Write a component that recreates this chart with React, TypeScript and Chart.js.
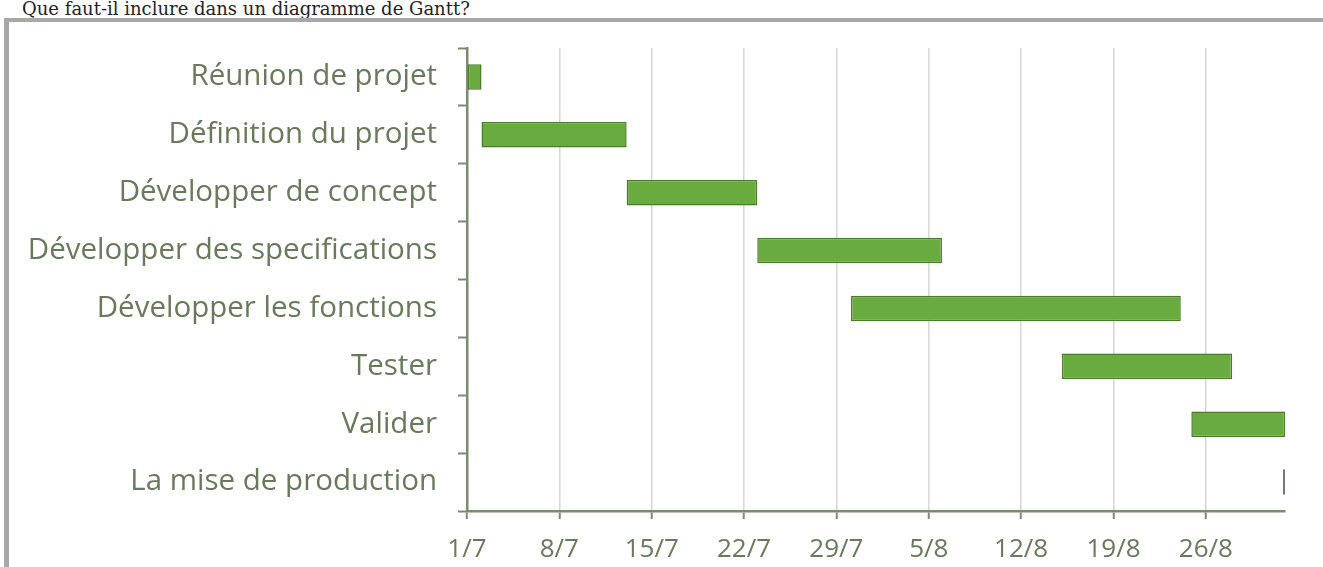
import React, { useEffect, useRef } from "react";
import { Chart, registerables } from "chart.js";

Chart.register(...registerables);

const title = "Que faut-il inclure dans un diagramme de Gantt?";
const tasks = [
  "Réunion de projet",
  "Définition du projet",
  "Développer de concept",
  "Développer des specifications",
  "Développer les fonctions",
  "Tester",
  "Valider",
  "La mise de production",
];
// start / end in days after 1 July
const startDays = [0, 1.1, 12.1, 22, 29.1, 45.1, 54.9, 61.85];
const endDays = [1.1, 12.1, 22, 36, 54.1, 58, 62, 62];
const tickDays = [0, 7, 14, 21, 28, 35, 42, 49, 56];
const tickLabels = ["1/7", "8/7", "15/7", "22/7", "29/7", "5/8", "12/8", "19/8", "26/8"];
const maxDay = 62;

export default function App() {
  const ref = useRef<HTMLCanvasElement | null>(null);

  useEffect(() => {
    if (!ref.current) return;
    const labelColor = "#687a5a";
    const axisColor = "#7d8a72";
    const fill = tasks.map((_, i) => (i === tasks.length - 1 ? "#6f7a68" : "#6aab40"));
    const border = tasks.map((_, i) => (i === tasks.length - 1 ? "#6f7a68" : "#4a7a2c"));
    const chart = new Chart(ref.current, {
      type: "bar",
      data: {
        labels: tasks,
        datasets: [
          {
            data: tasks.map((_, i) => [startDays[i], endDays[i]]) as any,
            backgroundColor: fill,
            borderColor: border,
            borderWidth: 1.5,
            borderSkipped: false,
            categoryPercentage: 1,
            barPercentage: 0.44,
          },
        ],
      },
      options: {
        indexAxis: "y",
        animation: false,
        responsive: false,
        maintainAspectRatio: false,
        layout: { padding: { top: 48, right: 38, left: 0, bottom: 0 } },
        plugins: { legend: { display: false }, tooltip: { enabled: false }, title: { display: false } },
        scales: {
          x: {
            type: "linear",
            min: 0,
            max: maxDay,
            afterBuildTicks: (scale: any) => {
              scale.ticks = tickDays.map((v) => ({ value: v }));
            },
            afterFit: (scale: any) => {
              scale.height = 56;
            },
            grid: {
              display: true,
              drawOnChartArea: true,
              color: "#d6d8d4",
              lineWidth: 1.5,
              drawTicks: true,
              tickLength: 8,
              tickColor: axisColor,
              tickWidth: 2,
            },
            border: { display: true, color: axisColor, width: 2.5 },
            ticks: {
              color: labelColor,
              padding: 15,
              maxRotation: 0,
              autoSkip: false,
              font: { family: "'Open Sans'", size: 26 },
              callback: (v: any) => {
                const i = tickDays.indexOf(Number(v));
                return i >= 0 ? tickLabels[i] : "";
              },
            },
          },
          y: {
            type: "category",
            afterFit: (scale: any) => {
              scale.width = 467;
            },
            grid: {
              display: true,
              offset: true,
              drawOnChartArea: false,
              drawTicks: true,
              tickLength: 9,
              tickColor: axisColor,
              tickWidth: 2,
            },
            border: { display: true, color: axisColor, width: 2.5 },
            ticks: {
              color: labelColor,
              padding: 21,
              autoSkip: false,
              font: { family: "'Open Sans'", size: 29.5 },
            },
          },
        },
      },
    });
    return () => chart.destroy();
  }, []);

  return (
    <div style={{ position: "absolute", left: 0, top: 0, width: 1323, height: 567, overflow: "hidden", background: "#fff" }}>
      <div
        style={{
          position: "absolute",
          left: 22,
          top: -2,
          fontFamily: "'DejaVu Serif'",
          fontSize: 18,
          color: "#222",
          whiteSpace: "nowrap",
          lineHeight: "22px",
        }}
      >
        {title}
      </div>
      <div
        style={{
          position: "absolute",
          left: 4,
          top: 18,
          width: 1400,
          height: 600,
          borderLeft: "5px solid #a8a8a8",
          borderTop: "4px solid #a8a8a8",
          boxSizing: "border-box",
        }}
      />
      <canvas ref={ref} width={1323} height={567} style={{ position: "absolute", left: 0, top: 0 }} />
    </div>
  );
}
